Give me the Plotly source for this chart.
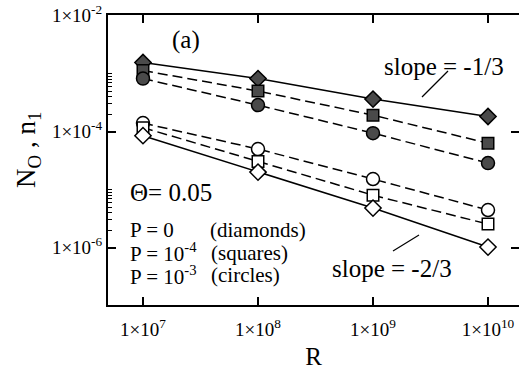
import plotly.graph_objects as go

# ---------------- data ----------------
R = [1e7, 1e8, 1e9, 1e10]

# filled symbols (upper group, slope -1/3)
NO_P0 = [1.55e-3, 8.2e-4, 3.63e-4, 1.82e-4]
NO_P4 = [1.13e-3, 5.0e-4, 1.92e-4, 6.3e-5]
NO_P3 = [8.2e-4, 2.86e-4, 9.4e-5, 2.86e-5]
# open symbols (lower group, slope -2/3)
n1_P0 = [8.5e-5, 2.0e-5, 4.8e-6, 1.02e-6]
n1_P4 = [1.17e-4, 3.04e-5, 8.0e-6, 2.54e-6]
n1_P3 = [1.40e-4, 5.0e-5, 1.52e-5, 4.44e-6]

x_ticks = [1e7, 1e8, 1e9, 1e10]
x_ticktext = ["1×10<sup>7</sup>", "1×10<sup>8</sup>", "1×10<sup>9</sup>", "1×10<sup>10</sup>"]
y_ticks = [1e-2, 1e-4, 1e-6]
y_ticktext = ["1×10<sup>-2</sup>", "1×10<sup>-4</sup>", "1×10<sup>-6</sup>"]
minor_decades = [1e-6, 1e-4]
minor_mult = [2, 3, 4, 5, 6, 7, 8, 9, 10]
y_minor = [k * d for d in minor_decades for k in minor_mult]

FONT = "Liberation Serif"
DASH = "10px,5px"

series = [
    # values, symbol, filled, dash
    (NO_P0, "diamond", True, "solid"),
    (NO_P4, "square", True, DASH),
    (NO_P3, "circle", True, DASH),
    (n1_P3, "circle", False, DASH),
    (n1_P4, "square", False, DASH),
    (n1_P0, "diamond", False, "solid"),
]
sizes = {"diamond": 12.5, "square": 11.5, "circle": 13}

fig = go.Figure()
# lines first
for vals, sym, filled, dash in series:
    fig.add_trace(go.Scatter(x=R, y=vals, mode="lines",
                             line=dict(color="black", width=1.5, dash=dash),
                             hoverinfo="skip"))
# markers on top
for vals, sym, filled, dash in series:
    fig.add_trace(go.Scatter(x=R, y=vals, mode="markers",
                             marker=dict(symbol=sym, size=sizes[sym],
                                         color="#4a4a4a" if filled else "white",
                                         line=dict(color="black", width=1.5))))

# dummy traces to register the auxiliary axes
fig.add_trace(go.Scatter(x=[], y=[], yaxis="y2", showlegend=False))
fig.add_trace(go.Scatter(x=[], y=[], yaxis="y3", showlegend=False))

yrange = [-6.99, -1.99]
xrange = [6.6957, 10.2696]

fig.update_layout(
    width=519, height=372,
    margin=dict(l=108, r=0, t=15, b=67),
    paper_bgcolor="white", plot_bgcolor="white",
    showlegend=False,
    font=dict(family=FONT, color="black"),
    xaxis=dict(type="log", range=xrange, showline=True, linecolor="black", linewidth=2,
               mirror="ticks", ticks="inside", ticklen=8, tickwidth=1.5, tickcolor="black",
               tickvals=x_ticks, ticktext=x_ticktext, tickfont=dict(size=19, family=FONT),
               ticklabelstandoff=6,
               showgrid=False, zeroline=False,
               title=dict(text="R", font=dict(size=25, family=FONT), standoff=9)),
    yaxis=dict(type="log", range=yrange, showline=True, linecolor="black", linewidth=2,
               mirror=False, ticks="inside", ticklen=8, tickwidth=1.5, tickcolor="black",
               tickvals=y_ticks, ticktext=y_ticktext, tickfont=dict(size=19, family=FONT),
               ticklabelstandoff=0,
               showgrid=False, zeroline=False),
    yaxis2=dict(type="log", range=yrange, overlaying="y", side="left", anchor="x",
                showline=False, ticks="inside", ticklen=4, tickwidth=1.2, tickcolor="black",
                tickvals=y_minor, showticklabels=False, showgrid=False, zeroline=False),
    yaxis3=dict(type="log", range=yrange, overlaying="y", side="right", anchor="x",
                showline=False, ticks="inside", ticklen=8, tickwidth=1.5, tickcolor="black",
                tickvals=y_ticks, showticklabels=False, showgrid=False, zeroline=False),
)

def px(xp):
    return (xp - 108) / 411.0

def py(yp):
    return (305 - yp) / 290.0

# y-axis title
fig.add_annotation(text="N<sub>O</sub> , n<sub>1</sub>", x=px(28), y=py(150),
                   xref="paper", yref="paper", xanchor="center", yanchor="middle",
                   textangle=-90, showarrow=False,
                   font=dict(size=27, family=FONT, color="black"))

ann = [
    ("(a)", 186, 40, 25, "center"),
    ("slope = -1/3", 444, 66, 25, "center"),
    ("slope = -2/3", 392, 268, 25, "center"),
    ("Θ= 0.05", 128, 192, 25, "left"),
    ("P = 0", 128, 230, 21, "left"),
    ("P = 10<sup>-4</sup>", 128, 252, 21, "left"),
    ("P = 10<sup>-3</sup>", 128, 275, 21, "left"),
    ("(diamonds)", 208, 230, 21, "left"),
    ("(squares)", 209, 253, 21, "left"),
    ("(circles)", 209, 275, 21, "left"),
]
for t, x, y, s, xa in ann:
    fig.add_annotation(text=t, x=px(x), y=py(y), xref="paper", yref="paper",
                       xanchor=xa, yanchor="middle", showarrow=False,
                       font=dict(size=s, family=FONT, color="black"))

fig.add_shape(type="line", xref="paper", yref="paper",
              x0=px(448), y0=py(71), x1=px(422), y1=py(97),
              line=dict(color="black", width=1.2))
fig.add_shape(type="line", xref="paper", yref="paper",
              x0=px(393), y0=py(251), x1=px(419), y1=py(235),
              line=dict(color="black", width=1.2))

fig.write_html("out.html")
